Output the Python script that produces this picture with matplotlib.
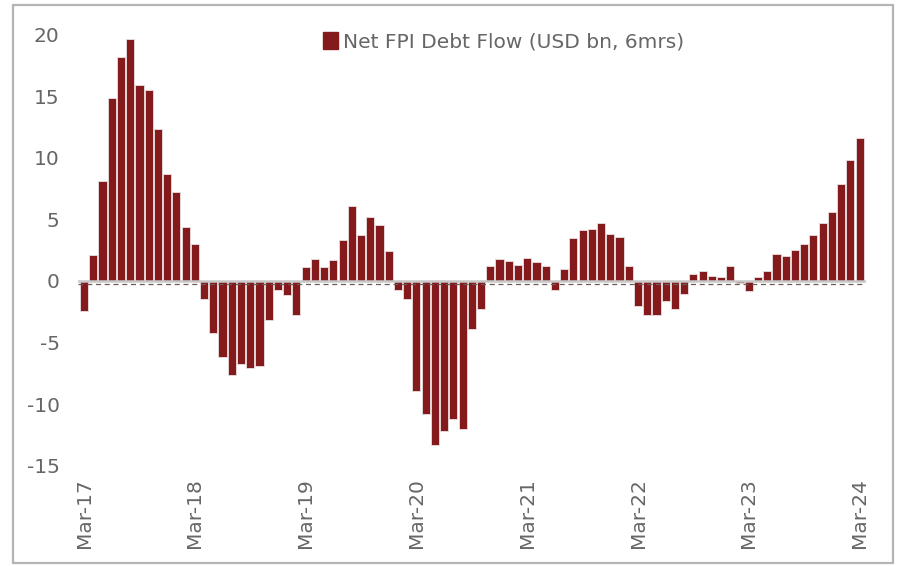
import matplotlib.pyplot as plt
from matplotlib.patches import Rectangle, Patch

# Flujo neto FPI deuda, mensual Mar-17 .. Mar-24
meses = ['Mar-17', 'Apr-17', 'May-17', 'Jun-17', 'Jul-17', 'Aug-17', 'Sep-17', 'Oct-17', 'Nov-17', 'Dec-17',
         'Jan-18', 'Feb-18', 'Mar-18', 'Apr-18', 'May-18', 'Jun-18', 'Jul-18', 'Aug-18', 'Sep-18', 'Oct-18',
         'Nov-18', 'Dec-18', 'Jan-19', 'Feb-19', 'Mar-19', 'Apr-19', 'May-19', 'Jun-19', 'Jul-19', 'Aug-19',
         'Sep-19', 'Oct-19', 'Nov-19', 'Dec-19', 'Jan-20', 'Feb-20', 'Mar-20', 'Apr-20', 'May-20', 'Jun-20',
         'Jul-20', 'Aug-20', 'Sep-20', 'Oct-20', 'Nov-20', 'Dec-20', 'Jan-21', 'Feb-21', 'Mar-21', 'Apr-21',
         'May-21', 'Jun-21', 'Jul-21', 'Aug-21', 'Sep-21', 'Oct-21', 'Nov-21', 'Dec-21', 'Jan-22', 'Feb-22',
         'Mar-22', 'Apr-22', 'May-22', 'Jun-22', 'Jul-22', 'Aug-22', 'Sep-22', 'Oct-22', 'Nov-22', 'Dec-22',
         'Jan-23', 'Feb-23', 'Mar-23', 'Apr-23', 'May-23', 'Jun-23', 'Jul-23', 'Aug-23', 'Sep-23', 'Oct-23',
         'Nov-23', 'Dec-23', 'Jan-24', 'Feb-24', 'Mar-24']
flujo = [-2.4, 2.1, 8.1, 14.8, 18.2, 19.6, 15.9, 15.5, 12.3, 8.7,
         7.2, 4.4, 3.0, -1.5, -4.2, -6.2, -7.6, -6.7, -7.1, -6.9,
         -3.2, -0.7, -1.15, -2.8, 1.1, 1.8, 1.1, 1.7, 3.3, 6.1,
         3.7, 5.2, 4.5, 2.4, -0.7, -1.5, -8.9, -10.8, -13.3, -12.2,
         -11.2, -12.0, -3.9, -2.3, 1.2, 1.8, 1.6, 1.3, 1.9, 1.5,
         1.2, -0.7, 1.0, 3.5, 4.1, 4.2, 4.7, 3.8, 3.6, 1.2,
         -2.0, -2.8, -2.8, -1.6, -2.3, -1.1, 0.6, 0.8, 0.4, 0.3,
         1.2, -0.2, -0.8, 0.3, 0.8, 2.2, 2.0, 2.5, 3.0, 3.7,
         4.7, 5.6, 7.9, 9.8, 11.6]
etiquetas_y = [-15, -10, -5, 0, 5, 10, 15, 20]

rojo = '#851a1d'
gris = '#666666'
plt.rcParams['font.family'] = ['DejaVu Sans']

fig = plt.figure(figsize=(8.97, 5.66), dpi=100)
ax = fig.add_axes([0.0865, 0.177, 0.879, 0.784])

x = list(range(len(flujo)))
ax.bar(x, flujo, width=0.88, color=rojo, edgecolor='#e8e2e2', linewidth=0.6, zorder=2)

# Linea de cero: gris + discontinua
ax.axhline(0, color='#c8c8c8', lw=1.8, zorder=3)
ax.axhline(-0.25, color='#6a5a5a', lw=0.9, ls=(0, (4, 3)), zorder=3)

ax.set_xlim(-0.7, len(flujo) - 0.3)
ax.set_ylim(-15, 21)
ax.set_yticks(etiquetas_y)
ax.set_yticklabels([str(v) for v in etiquetas_y], color=gris, fontsize=14.5)
ax.set_xticks(x[::12])
ax.set_xticklabels(meses[::12], rotation=90, color=gris, fontsize=14.5)
ax.tick_params(axis='both', length=0)
ax.tick_params(axis='y', pad=13)
ax.tick_params(axis='x', pad=9)
for s in ax.spines.values():
    s.set_visible(False)

ax.legend([Patch(color=rojo)], ['Net FPI Debt Flow (USD bn, 6mrs)'], loc='center',
          bbox_to_anchor=(0.54, 0.955), frameon=False, fontsize=14.5, handlelength=0.75,
          handleheight=0.9, handletextpad=0.25, labelcolor=gris)

# Borde de la figura
fig.patches.append(Rectangle((0.0145, 0.005), 0.981, 0.986, transform=fig.transFigure,
                             fill=False, edgecolor='#b5b5b5', lw=1.6))

plt.savefig('out.png')
